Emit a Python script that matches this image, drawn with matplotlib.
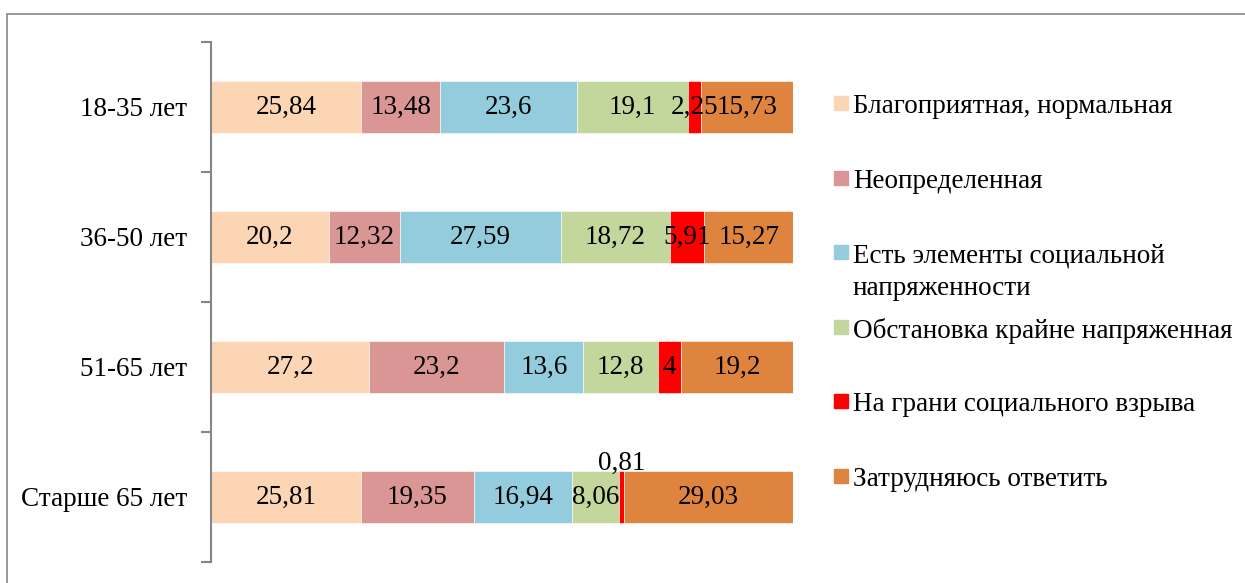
import matplotlib.pyplot as plt
from matplotlib.patches import Rectangle
import numpy as np

plt.rcParams['font.family'] = ['Liberation Serif', 'DejaVu Serif']

# Данные
groups = ["18-35 лет", "36-50 лет", "51-65 лет", "Старше 65 лет"]
series = ["Благоприятная, нормальная", "Неопределенная",
          "Есть элементы социальной\nнапряженности",
          "Обстановка крайне напряженная", "На грани социального взрыва",
          "Затрудняюсь ответить"]
favorable = [25.84, 20.2, 27.2, 25.81]
uncertain = [13.48, 12.32, 23.2, 19.35]
tension = [23.6, 27.59, 13.6, 16.94]
extreme = [19.1, 18.72, 12.8, 8.06]
explosion = [2.25, 5.91, 4, 0.81]
unsure = [15.73, 15.27, 19.2, 29.03]
colors = ["#FCD5B5", "#D99694", "#93CDDD", "#C3D69B", "#FF0000", "#DE843F"]

values = [favorable, uncertain, tension, extreme, explosion, unsure]

fig = plt.figure(figsize=(12.45, 5.83), dpi=100)
ax = fig.add_axes([211 / 1245, 21 / 583, 582 / 1245, 520 / 583])

y = np.arange(len(groups))
left = np.zeros(len(groups))
for name, vals, col in zip(series, values, colors):
    vals = np.array(vals)
    ax.barh(y, vals, left=left, height=0.4, color=col,
            edgecolor="white", linewidth=0.4)
    for yi, (l, v) in enumerate(zip(left, vals)):
        txt = f"{v:g}".replace(".", ",")
        if v < 1:
            # маленький сегмент - подпись над столбцом
            ax.text(l + v / 2, yi - 0.26, txt, ha="center", va="center",
                    fontsize=19.5)
        else:
            ax.text(l + v / 2, yi, txt, ha="center", va="center",
                    fontsize=19.5)
    left += vals

ax.set_xlim(0, 100)
ax.set_ylim(len(groups) - 0.5, -0.5)
ax.set_yticks(y)
ax.set_yticklabels(groups, fontsize=19.5)
ax.set_yticks(np.arange(len(groups) + 1) - 0.5, minor=True)
ax.tick_params(axis="y", which="major", length=0, pad=17)
ax.tick_params(axis="y", which="minor", length=7, width=1.5, color="#868686")
ax.set_xticks([])
for s in ["top", "right", "bottom"]:
    ax.spines[s].set_visible(False)
ax.spines["left"].set_color("#868686")
ax.spines["left"].set_linewidth(1.5)

# Легенда вручную
W, H = 1245, 583
for i, (name, col) in enumerate(zip(series, colors)):
    ty = 103 + i * 74.6
    fig.add_artist(Rectangle((834 / W, 1 - (ty + 7) / H), 14 / W, 14 / H,
                             transform=fig.transFigure, color=col))
    fig.text(853 / W, 1 - (ty - 9) / H, name, fontsize=19.5, va="top",
             ha="left", linespacing=1.4)

# Рамка
fig.add_artist(Rectangle((7 / W, -0.05), 1.0, 1 - 14 / H + 0.05,
                         transform=fig.transFigure, fill=False,
                         edgecolor="#878787", linewidth=1.2))

fig.savefig("out.png", dpi=100)
